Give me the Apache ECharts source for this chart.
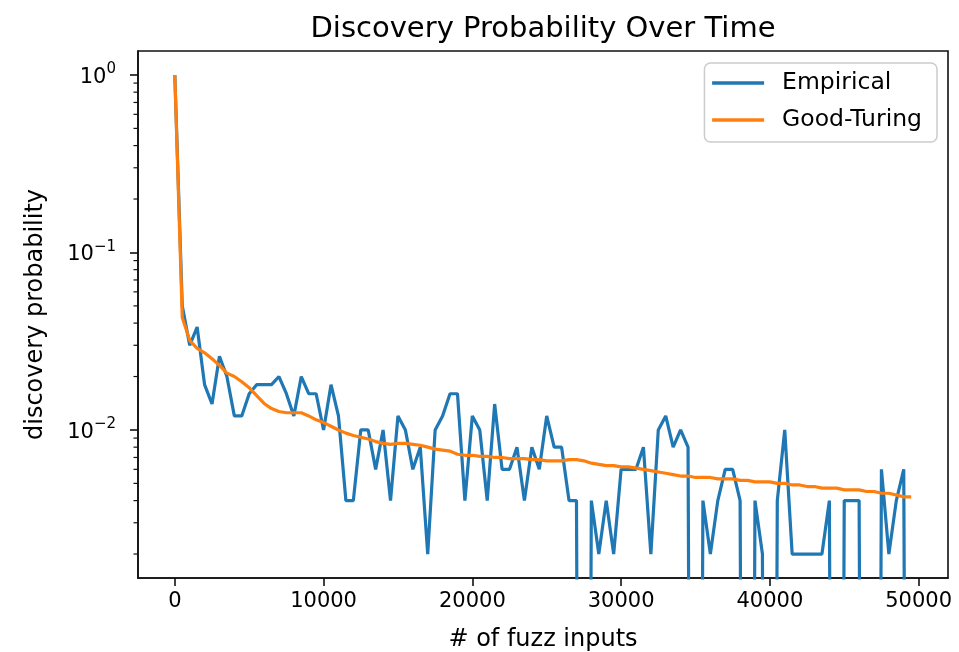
<!DOCTYPE html>
<html><head><meta charset="utf-8">
<script src="https://cdn.jsdelivr.net/npm/echarts@6/dist/echarts.min.js"></script>
<style>html,body{margin:0;padding:0;background:#fff}#c{width:959px;height:652px}</style>
</head><body><div id="c"></div>
<script>
// # of fuzz inputs (x positions)
const inputs = [0,500,1000,1500,2000,2500,3000,3500,4000,4500,5000,5500,6000,6500,7000,7500,8000,8500,9000,9500,
10000,10500,11000,11500,12000,12500,13000,13500,14000,14500,15000,15500,16000,16500,17000,17500,18000,18500,19000,19500,
20000,20500,21000,21500,22000,22500,23000,23500,24000,24500,25000,25500,26000,26500,27000,27500,28000,28500,29000,29500,
30000,30500,31000,31500,32000,32500,33000,33500,34000,34500,35000,35500,36000,36500,37000,37500,38000,38500,39000,39500,
40000,40500,41000,41500,42000,42500,43000,43500,44000,44500,45000,45500,46000,46500,47000,47500,48000,48500,49000,49500];
// Empirical discovery probability (0 = no discovery in the window)
const empirical = [1.0,0.05,0.03,0.038,0.018,0.014,0.026,0.02,0.012,0.012,
0.016,0.018,0.018,0.018,0.02,0.016,0.012,0.02,0.016,0.016,
0.010,0.018,0.012,0.004,0.004,0.010,0.010,0.006,0.010,0.004,
0.012,0.010,0.006,0.008,0.002,0.010,0.012,0.016,0.016,0.004,
0.012,0.010,0.004,0.014,0.006,0.006,0.008,0.004,0.008,0.006,
0.012,0.008,0.008,0.004,0.004,0,0.004,0.002,0.004,0.002,
0.006,0.006,0.006,0.008,0.002,0.010,0.012,0.008,0.010,0.008,
0,0.004,0.002,0.004,0.006,0.006,0.004,0,0.004,0.002,
0,0.004,0.010,0.002,0.002,0.002,0.002,0.002,0.004,0,
0.004,0.004,0.004,0,0,0.006,0.002,0.004,0.006,0];
// Good-Turing estimate
const goodTuring = [1.0,0.043,0.032,0.0288,0.0272,0.0252,0.0231,0.0209,0.0200,0.0187,
0.0173,0.0156,0.0141,0.0132,0.0127,0.0125,0.0125,0.0125,0.0120,0.0114,
0.0110,0.0105,0.0100,0.0096,0.0093,0.0091,0.0089,0.0086,0.0084,0.0083,
0.0084,0.0084,0.0083,0.0082,0.0080,0.0078,0.0077,0.0076,0.0073,0.0072,
0.0072,0.0071,0.0071,0.0070,0.0070,0.0069,0.0069,0.0069,0.0068,0.0068,
0.0067,0.0067,0.0067,0.0068,0.0068,0.0067,0.0065,0.0064,0.0063,0.0063,
0.0062,0.0062,0.0061,0.0060,0.0059,0.0058,0.0057,0.0056,0.0055,0.0055,
0.0054,0.0054,0.0054,0.0053,0.0053,0.0053,0.0052,0.0052,0.0051,0.0051,
0.0051,0.0050,0.0050,0.0049,0.0049,0.0048,0.0048,0.0047,0.0047,0.0047,
0.0046,0.0046,0.0046,0.0045,0.0045,0.0044,0.0044,0.0043,0.0042,0.0042];
const xTicks = [0,10000,20000,30000,40000,50000];
const yMajorTicks = [0.01,0.1,1];
const yMinorTicks = [0.002,0.003,0.004,0.005,0.006,0.007,0.008,0.009,
0.02,0.03,0.04,0.05,0.06,0.07,0.08,0.09,0.2,0.3,0.4,0.5,0.6,0.7,0.8,0.9];

const FONT = 'DejaVu Sans';
const X_MIN = -2475, X_MAX = 51975;
const Y_MIN = Math.pow(10,-2.834), Y_MAX = Math.pow(10,0.135);
const TINY = 1e-12; // log axis cannot show 0; plotted far below the axis like matplotlib's clipping
const AXIS_COLOR = '#111';

const chart = echarts.init(document.getElementById('c'));
const supLabel = v => {
  const e = Math.round(Math.log10(v));
  return '{b|10}{s|' + (e < 0 ? '\u2212' + (-e) : String(e)) + '}';
};
chart.setOption({
  animation: false,
  backgroundColor: '#ffffff',
  title: {
    text: 'Discovery Probability Over Time',
    left: 543, top: 15, textAlign: 'center', padding: 0,
    textStyle: {fontFamily: FONT, fontSize: 29, fontWeight: 'normal', color: '#000'}
  },
  legend: {
    data: ['Empirical','Good-Turing'],
    orient: 'vertical', right: 22, top: 63,
    itemWidth: 52, itemHeight: 2, itemGap: 11,
    padding: [7,15,9,6],
    backgroundColor: 'rgba(255,255,255,0.8)',
    borderColor: '#cccccc', borderWidth: 1.5, borderRadius: 6,
    itemStyle: {opacity: 0},
    lineStyle: {width: 3.3},
    textStyle: {fontFamily: FONT, fontSize: 23.5, color: '#000', lineHeight: 26, padding: [0,0,0,13]}
  },
  grid: {left: 138, right: 11, top: 51, bottom: 74, show: true, borderColor: AXIS_COLOR, borderWidth: 1.6,
    containLabel: false, outerBoundsMode: 'none'},
  xAxis: {
    type: 'value', min: X_MIN, max: X_MAX,
    name: '# of fuzz inputs', nameLocation: 'middle', nameGap: 50,
    nameTextStyle: {fontFamily: FONT, fontSize: 24, color: '#000'},
    axisLine: {show: true, onZero: false, lineStyle: {color: AXIS_COLOR, width: 1.6}},
    splitLine: {show: false},
    axisTick: {show: true, customValues: xTicks, length: 8, lineStyle: {color: AXIS_COLOR, width: 1.6}},
    axisLabel: {customValues: xTicks, margin: 13, fontFamily: FONT, fontSize: 21, color: '#000',
      formatter: v => String(v)}
  },
  yAxis: {
    type: 'log', min: Y_MIN, max: Y_MAX,
    name: 'discovery probability', nameLocation: 'middle', nameGap: 90, nameRotate: 90,
    nameTextStyle: {fontFamily: FONT, fontSize: 24, color: '#000'},
    axisLine: {show: true, onZero: false, lineStyle: {color: AXIS_COLOR, width: 1.6}},
    splitLine: {show: false},
    axisTick: {show: true, customValues: yMajorTicks, length: 8, lineStyle: {color: AXIS_COLOR, width: 1.6}},
    axisLabel: {customValues: yMajorTicks, margin: 22, formatter: supLabel,
      rich: {
        b: {fontFamily: FONT, fontSize: 21, color: '#000', verticalAlign: 'bottom', padding: [5,0,0,0]},
        s: {fontFamily: FONT, fontSize: 15, color: '#000', verticalAlign: 'top'}
      }}
  },
  series: [{
    name: 'Empirical', type: 'line', symbol: 'none', showSymbol: false,
    data: empirical.map((v,i) => [inputs[i], v > 0 ? v : TINY]),
    lineStyle: {color: '#1f77b4', width: 3.2}, itemStyle: {color: '#1f77b4'}, clip: true, z: 2
  },{
    name: 'Good-Turing', type: 'line', symbol: 'none', showSymbol: false,
    data: goodTuring.map((v,i) => [inputs[i], v]),
    lineStyle: {color: '#ff7f0e', width: 3.2}, itemStyle: {color: '#ff7f0e'}, clip: true, z: 3
  },{
    // minor y ticks (2..9 x 10^k) placed through the log axis
    type: 'custom', silent: true, clip: false, z: 10,
    data: yMinorTicks.map(v => [X_MIN, v]),
    renderItem: (params, api) => {
      const p = api.coord([api.value(0), api.value(1)]);
      return {type: 'line', shape: {x1: p[0] - 4.5, y1: p[1], x2: p[0], y2: p[1]},
        style: {stroke: AXIS_COLOR, lineWidth: 1.2}};
    }
  }]
});
</script></body></html>
